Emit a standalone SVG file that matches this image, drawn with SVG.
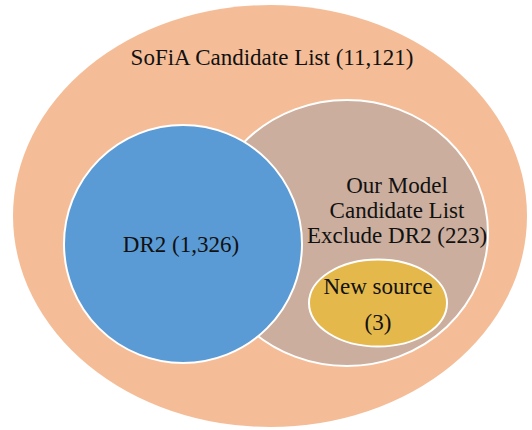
<svg xmlns="http://www.w3.org/2000/svg" width="532" height="430" viewBox="0 0 532 430">
  <style>
    .lbl { font-family: "Liberation Serif", "Times New Roman", serif; font-size: 23px; fill: #111; text-anchor: middle; }
    .set { stroke: #ffffff; stroke-width: 2; }
  </style>
  <rect width="532" height="430" fill="#ffffff"/>
  <g id="sofia">
    <ellipse cx="270" cy="216" rx="257" ry="211" fill="#F5BD97"/>
    <text class="lbl" x="272" y="65">SoFiA Candidate List (11,121)</text>
  </g>
  <g id="our-model">
    <ellipse class="set" cx="347" cy="233" rx="141" ry="133" fill="#CBAE9D"/>
    <text class="lbl" x="397" y="193">Our Model</text>
    <text class="lbl" x="397" y="218">Candidate List</text>
    <text class="lbl" x="397" y="243">Exclude DR2 (223)</text>
  </g>
  <g id="dr2">
    <circle class="set" cx="183" cy="244" r="119" fill="#5B9BD5"/>
    <text class="lbl" x="181" y="252">DR2 (1,326)</text>
  </g>
  <g id="new-source">
    <ellipse class="set" cx="378" cy="303" rx="69" ry="43.5" fill="#E5B84B"/>
    <text class="lbl" x="378" y="294">New source</text>
    <text class="lbl" x="378" y="330">(3)</text>
  </g>
</svg>
